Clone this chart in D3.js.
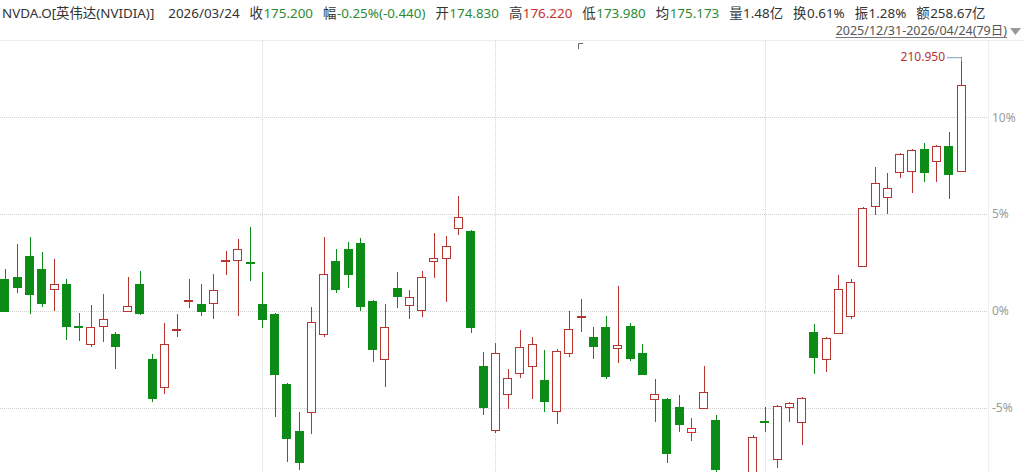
<!DOCTYPE html>
<html>
<head>
<meta charset="utf-8">
<script src="https://cdn.jsdelivr.net/npm/d3@7"></script>
<style>
  body { margin: 0; background: #fff; overflow: hidden; }
  svg { display: block; font-family: "Noto Sans", "Noto Sans CJK SC", sans-serif; }
</style>
</head>
<body>
<svg id="kline"></svg>
<script>
// daily candles, 2025/12/31 - 2026/04/24
var dates = [
  "2025/12/31",
  "2026/01/02","2026/01/05","2026/01/06","2026/01/07","2026/01/08","2026/01/09",
  "2026/01/12","2026/01/13","2026/01/14","2026/01/15","2026/01/16",
  "2026/01/20","2026/01/21","2026/01/22","2026/01/23",
  "2026/01/26","2026/01/27","2026/01/28","2026/01/29","2026/01/30",
  "2026/02/02","2026/02/03","2026/02/04","2026/02/05","2026/02/06",
  "2026/02/09","2026/02/10","2026/02/11","2026/02/12","2026/02/13",
  "2026/02/17","2026/02/18","2026/02/19","2026/02/20",
  "2026/02/23","2026/02/24","2026/02/25","2026/02/26","2026/02/27",
  "2026/03/02","2026/03/03","2026/03/04","2026/03/05","2026/03/06",
  "2026/03/09","2026/03/10","2026/03/11","2026/03/12","2026/03/13",
  "2026/03/16","2026/03/17","2026/03/18","2026/03/19","2026/03/20",
  "2026/03/23","2026/03/24","2026/03/25","2026/03/26","2026/03/27",
  "2026/03/30","2026/03/31",
  "2026/04/01","2026/04/02",
  "2026/04/06","2026/04/07","2026/04/08","2026/04/09","2026/04/10",
  "2026/04/13","2026/04/14","2026/04/15","2026/04/16","2026/04/17",
  "2026/04/20","2026/04/21","2026/04/22","2026/04/23","2026/04/24"
];

var open = [
  189.58, 189.78, 191.80, 190.55, 188.62, 189.10, 185.05, 183.32, 185.05, 184.28,
  186.50, 189.10, 181.87, 179.17, 184.72, 187.51, 187.17, 187.27, 191.37, 191.42,
  191.22, 187.17, 186.21, 179.46, 174.93, 176.76, 184.28, 191.32, 192.48, 193.06,
  187.46, 181.87, 188.72, 187.08, 186.60, 191.35, 191.61, 194.50, 194.21, 181.20,
  175.03, 178.50, 180.52, 181.20, 179.85, 176.86, 182.45, 185.97, 183.99, 184.96,
  182.96, 185.05, 182.45, 178.02, 178.02, 177.25, 174.83, 177.15, 175.99, 170.20,
  167.80, 168.90, 175.94, 172.23, 177.25, 175.80, 184.48, 181.87, 184.38, 186.02,
  190.84, 196.62, 197.49, 199.90, 200.00, 202.12, 200.96, 202.41, 200.00
];
var high = [
  190.55, 192.96, 193.63, 192.19, 191.51, 189.58, 186.31, 187.08, 188.14, 184.48,
  189.78, 190.36, 182.35, 185.34, 186.21, 189.58, 189.10, 190.07, 192.28, 193.44,
  194.60, 190.26, 186.31, 179.56, 176.76, 186.89, 193.63, 192.48, 193.15, 193.54,
  187.56, 187.17, 190.26, 188.52, 190.36, 194.02, 193.73, 197.59, 194.31, 182.55,
  183.42, 180.91, 184.67, 183.99, 182.74, 182.84, 186.50, 187.66, 184.96, 186.02,
  188.91, 185.34, 183.32, 179.94, 178.11, 178.40, 176.22, 181.20, 176.47, 170.70,
  170.50, 174.55, 177.25, 177.44, 177.73, 178.21, 185.25, 183.99, 189.97, 189.58,
  196.53, 200.38, 199.80, 201.73, 202.12, 202.70, 202.50, 203.76, 210.95
];
var low = [
  186.40, 188.24, 186.21, 186.89, 186.50, 183.70, 183.61, 183.03, 183.51, 180.91,
  186.40, 186.11, 177.73, 178.50, 183.99, 186.79, 186.02, 185.73, 189.97, 186.02,
  189.39, 184.86, 176.28, 171.94, 171.17, 174.64, 183.99, 188.24, 188.72, 186.50,
  181.58, 179.17, 186.79, 185.73, 185.92, 189.68, 187.37, 193.83, 184.38, 176.47,
  174.74, 177.05, 180.04, 178.02, 176.76, 175.61, 182.07, 184.48, 181.87, 179.94,
  181.49, 181.68, 180.33, 175.80, 171.85, 174.84, 173.98, 177.05, 170.69, 166.80,
  166.50, 168.40, 174.84, 171.37, 175.80, 173.58, 180.43, 180.62, 184.28, 185.73,
  190.74, 195.75, 195.85, 199.32, 197.88, 198.94, 198.94, 197.30, 199.90
];
var close = [
  186.50, 188.81, 188.14, 187.27, 189.10, 185.05, 184.96, 184.96, 185.73, 183.13,
  186.98, 186.31, 178.11, 183.32, 184.76, 187.56, 186.50, 188.52, 191.42, 192.48,
  191.13, 185.73, 180.43, 174.26, 171.94, 185.44, 190.07, 188.62, 190.07, 186.98,
  182.84, 184.96, 187.95, 187.85, 189.78, 191.58, 192.77, 195.56, 184.96, 177.25,
  182.45, 180.04, 183.03, 183.32, 177.82, 182.64, 184.76, 186.02, 183.13, 180.23,
  183.22, 181.97, 180.43, 178.50, 172.81, 175.61, 175.20, 178.69, 171.27, 167.60,
  169.30, 174.35, 175.85, 177.34, 177.63, 178.11, 182.07, 183.90, 188.62, 189.30,
  196.43, 198.84, 198.36, 201.63, 202.02, 199.90, 202.41, 199.71, 208.29
];

var baseClose = 186.50;          // 0% line
var pctTicks = [-5, 0, 5, 10];
var monthStarts = ["2026/02/02", "2026/03/02", "2026/04/01"];
var hoverDate = "2026/03/24";
var rangeLabel = "2025/12/31-2026/04/24(79日)";

var headerLabels = ["", "", "收", "幅", "开", "高", "低", "均", "量", "换", "振", "额"];
var headerValues = ["NVDA.O[英伟达(NVIDIA)]", "2026/03/24", "175.200", "-0.25%(-0.440)", "174.830",
                    "176.220", "173.980", "175.173", "1.48亿", "0.61%", "1.28%", "258.67亿"];
var headerTone = ["text", "text", "down", "down", "down", "up", "down", "down", "text", "text", "text", "text"];

var W = 1024, H = 472;
var UP = "#b8342e", DOWN = "#0c8c17", HOVER = "#e3262a";
var toneColor = { text: "#333", up: "#c4322f", down: "#2e8b35" };

var svg = d3.select("svg#kline").attr("width", W).attr("height", H);

var x = d3.scalePoint().domain(dates).range([5, 961]);
var pct = function (p) { return (p / baseClose - 1) * 100; };
var y = d3.scaleLinear().domain([-8.32, 14.0]).range([472, 40]);
var py = function (p) { return y(pct(p)); };
var bodyW = 9;

var candles = dates.map(function (d, i) {
  return { date: d, o: open[i], h: high[i], l: low[i], c: close[i] };
});

// header row
var hdr = svg.append("g").attr("font-size", 13.4);
var cx = 2;
headerValues.forEach(function (v, i) {
  if (headerLabels[i]) {
    var lt = hdr.append("text").attr("x", cx).attr("y", 18).attr("fill", "#333").text(headerLabels[i]);
    cx += lt.node().getComputedTextLength() + 0.5;
  }
  var vt = hdr.append("text").attr("x", cx).attr("y", 18).attr("fill", toneColor[headerTone[i]]).text(v);
  cx += vt.node().getComputedTextLength() + (i === 0 ? 14 : 10);
});

var rl = svg.append("text")
  .attr("x", 1007).attr("y", 35)
  .attr("text-anchor", "end")
  .attr("font-size", 12.5)
  .attr("fill", "#555")
  .text(rangeLabel);
var rlw = rl.node().getComputedTextLength();
svg.append("line")
  .attr("x1", 1007 - rlw).attr("x2", 1007)
  .attr("y1", 37.5).attr("y2", 37.5)
  .attr("stroke", "#777");
svg.append("path").attr("d", "M1010,28L1021,28L1015.5,35Z").attr("fill", "#999");

// frame / grid
svg.append("line")
  .attr("x1", 0).attr("x2", W).attr("y1", 40.5).attr("y2", 40.5)
  .attr("stroke", "#ececec");
svg.append("line")
  .attr("x1", 988.5).attr("x2", 988.5).attr("y1", 41).attr("y2", H)
  .attr("stroke", "#efefef");

var grid = svg.append("g").attr("shape-rendering", "crispEdges");
grid.selectAll(".hgrid")
  .data(pctTicks)
  .enter().append("line")
    .attr("class", "hgrid")
    .attr("x1", 0).attr("x2", 988)
    .attr("y1", function (d) { return Math.round(y(d)) + 0.5; })
    .attr("y2", function (d) { return Math.round(y(d)) + 0.5; })
    .attr("stroke", "#cfcfcf")
    .attr("stroke-dasharray", "1,1");
grid.selectAll(".vgrid")
  .data(monthStarts)
  .enter().append("line")
    .attr("class", "vgrid")
    .attr("x1", function (d) { return Math.round(x(d)) + 0.5; })
    .attr("x2", function (d) { return Math.round(x(d)) + 0.5; })
    .attr("y1", 41).attr("y2", H)
    .attr("stroke", "#d6d6d6")
    .attr("stroke-dasharray", "1,1");

svg.append("g")
  .attr("font-size", 12)
  .attr("fill", "#9a9a9a")
  .selectAll("text")
  .data(pctTicks)
  .enter().append("text")
    .attr("x", 992)
    .attr("y", function (d) { return y(d); })
    .attr("dy", "0.35em")
    .text(function (d) { return d + "%"; });

// candles
var cg = svg.append("g").attr("shape-rendering", "crispEdges");
var candle = cg.selectAll("g.candle")
  .data(candles)
  .enter().append("g")
    .attr("class", "candle");

function colorOf(d) {
  if (d.date === hoverDate) return HOVER;
  return d.c >= d.o ? UP : DOWN;
}

candle.append("line")
  .attr("x1", function (d) { return Math.round(x(d.date)) + 0.5; })
  .attr("x2", function (d) { return Math.round(x(d.date)) + 0.5; })
  .attr("y1", function (d) { return py(d.h); })
  .attr("y2", function (d) { return py(d.l); })
  .attr("stroke", colorOf);

candle.append("rect")
  .attr("x", function (d) { return Math.round(x(d.date) - bodyW / 2) + 0.5; })
  .attr("y", function (d) { return Math.round(py(Math.max(d.o, d.c))) + 0.5; })
  .attr("width", bodyW - 1)
  .attr("height", function (d) {
    return Math.max(1, Math.round(py(Math.min(d.o, d.c))) - Math.round(py(Math.max(d.o, d.c))));
  })
  .attr("fill", function (d) { return d.c >= d.o ? "#fff" : DOWN; })
  .attr("stroke", colorOf)
  .attr("stroke-width", function (d) { return d.date === hoverDate ? 1.6 : 1; });

// highest price marker
var hiIdx = d3.maxIndex(high);
var hx = x(dates[hiIdx]), hy = py(high[hiIdx]);
svg.append("path")
  .attr("d", "M947," + (hy + 0.5) + "H" + (Math.round(hx) + 0.5) + "V" + (hy + 4))
  .attr("fill", "none")
  .attr("stroke", "#7f9fbf");
svg.append("text")
  .attr("x", 945).attr("y", hy)
  .attr("dy", "0.35em")
  .attr("text-anchor", "end")
  .attr("font-size", 12)
  .attr("fill", "#b8342e")
  .text(d3.format(".3f")(high[hiIdx]));

// crosshair remnant
svg.append("path").attr("d", "M578.5,49V43.5H583").attr("fill", "none").attr("stroke", "#666");
</script>
</body>
</html>
